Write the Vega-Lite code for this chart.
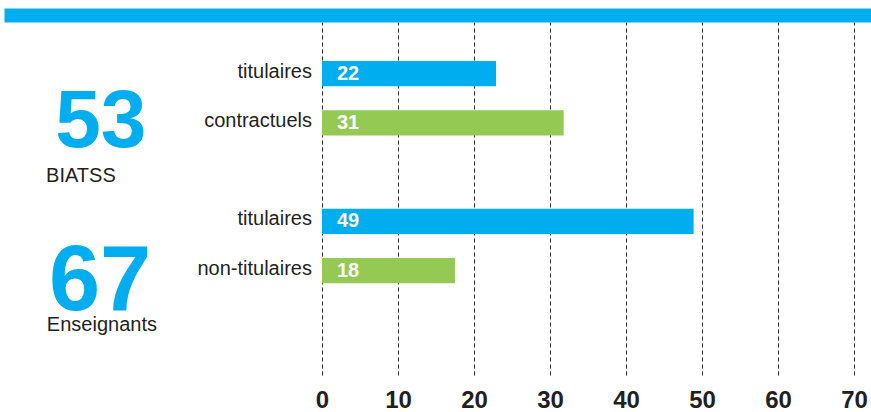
{
  "$schema": "https://vega.github.io/schema/vega-lite/v6.json",
  "autosize": {"type": "none"},
  "width": 867,
  "height": 353,
  "padding": {"left": 4, "top": 22, "right": 0, "bottom": 37},
  "background": "white",
  "config": {"view": {"stroke": null}, "font": "Liberation Sans"},
  "datasets": {
    "bars": [
      {"key": "B-tit", "cat": "titulaires", "type": "titulaires", "n": 22, "len": 22.9},
      {"key": "B-con", "cat": "contractuels", "type": "autres", "n": 31, "len": 31.8},
      {"key": "E-tit", "cat": "titulaires", "type": "titulaires", "n": 49, "len": 48.9},
      {"key": "E-non", "cat": "non-titulaires", "type": "autres", "n": 18, "len": 17.5}
    ],
    "groups": [
      {"group": "BIATSS", "total": 53},
      {"group": "Enseignants", "total": 67}
    ]
  },
  "layer": [
    {
      "data": {"name": "bars"},
      "mark": {"type": "bar"},
      "encoding": {
        "y": {
          "field": "key", "type": "nominal",
          "scale": {"domain": ["B-tit", "B-con", "gap", "E-tit", "E-non", "pad"], "paddingInner": 0.49, "paddingOuter": 0.829, "align": 0.478, "round": false},
          "axis": null
        },
        "x": {
          "field": "len", "type": "quantitative",
          "scale": {"domain": [-41.84, 72.24], "nice": false, "zero": false},
          "axis": {
            "orient": "bottom", "values": [0, 10, 20, 30, 40, 50, 60, 70],
            "grid": true, "gridDash": [4, 3], "gridColor": "#2b2b2b", "gridWidth": 1,
            "domain": false, "ticks": false, "title": null,
            "labelFontSize": 24, "labelFontWeight": "bold", "labelFont": "Liberation Sans",
            "labelColor": "#231f20", "labelPadding": 13, "labelFlush": false
          }
        },
        "x2": {"datum": 0},
        "color": {
          "field": "type", "type": "nominal",
          "scale": {"domain": ["titulaires", "autres"], "range": ["#00aeef", "#94c954"]},
          "legend": null
        }
      }
    },
    {
      "data": {"name": "bars"},
      "mark": {"type": "text", "align": "right", "baseline": "middle", "dx": -10, "dy": -2, "fontSize": 20, "font": "Liberation Sans", "color": "#231f20"},
      "encoding": {
        "y": {"field": "key", "type": "nominal", "axis": null},
        "x": {
          "datum": 0, "type": "quantitative",
          "axis": {"orient": "top", "domain": true, "domainColor": "#00aeef", "domainWidth": 14, "offset": 7, "ticks": false, "labels": false, "grid": false, "title": null}
        },
        "text": {"field": "cat"}
      }
    },
    {
      "data": {"name": "bars"},
      "mark": {"type": "text", "align": "left", "baseline": "middle", "dx": 15, "fontSize": 20, "fontWeight": "bold", "font": "Liberation Sans", "color": "white"},
      "encoding": {
        "y": {"field": "key", "type": "nominal", "axis": null},
        "x": {"datum": 0, "type": "quantitative", "axis": null},
        "text": {"field": "n"}
      }
    },
    {
      "data": {"name": "groups"},
      "transform": [{"filter": "datum.group === 'BIATSS'"}],
      "mark": {"type": "text", "align": "center", "baseline": "alphabetic", "dy": 24, "fontSize": 82, "fontWeight": "bold", "font": "Liberation Sans", "color": "#00aeef"},
      "encoding": {
        "y": {"datum": "B-con", "type": "nominal", "axis": null},
        "x": {"datum": -29.1, "type": "quantitative", "axis": null},
        "text": {"field": "total"}
      }
    },
    {
      "data": {"name": "groups"},
      "transform": [{"filter": "datum.group === 'Enseignants'"}],
      "mark": {"type": "text", "align": "center", "baseline": "alphabetic", "dy": 39, "fontSize": 92, "fontWeight": "bold", "font": "Liberation Sans", "color": "#00aeef"},
      "encoding": {
        "y": {"datum": "E-non", "type": "nominal", "axis": null},
        "x": {"datum": -29.2, "type": "quantitative", "axis": null},
        "text": {"field": "total"}
      }
    },
    {
      "data": {"name": "groups"},
      "transform": [{"filter": "datum.group === 'BIATSS'"}],
      "mark": {"type": "text", "align": "left", "baseline": "alphabetic", "dy": 59.5, "fontSize": 20, "font": "Liberation Sans", "color": "#231f20"},
      "encoding": {
        "y": {"datum": "B-con", "type": "nominal", "axis": null},
        "x": {"datum": -36.3, "type": "quantitative", "axis": null},
        "text": {"field": "group"}
      }
    },
    {
      "data": {"name": "groups"},
      "transform": [{"filter": "datum.group === 'Enseignants'"}],
      "mark": {"type": "text", "align": "left", "baseline": "alphabetic", "dy": 60, "fontSize": 20, "font": "Liberation Sans", "color": "#231f20"},
      "encoding": {
        "y": {"datum": "E-non", "type": "nominal", "axis": null},
        "x": {"datum": -36.2, "type": "quantitative", "axis": null},
        "text": {"field": "group"}
      }
    }
  ]
}
